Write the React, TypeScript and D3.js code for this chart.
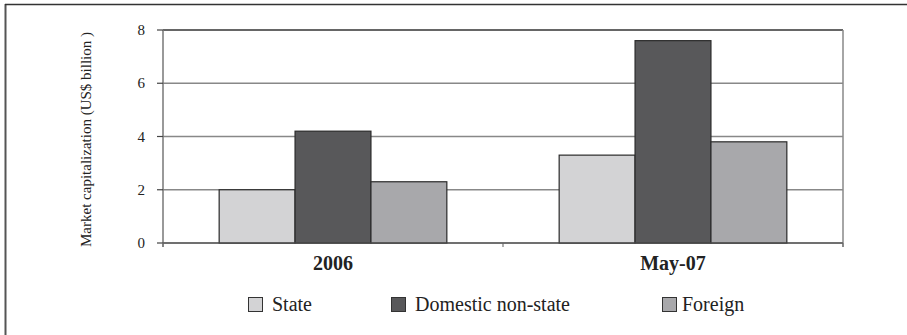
import React from "react";
import * as d3 from "d3";

const categories = ["2006", "May-07"];
const seriesNames = ["State", "Domestic non-state", "Foreign"];
const stateValues = [2.0, 3.3];
const domesticValues = [4.2, 7.6];
const foreignValues = [2.3, 3.8];
const yTicks = [0, 2, 4, 6, 8];

const seriesColors = ["#d3d3d5", "#58585a", "#a8a8ab"];
const FONT = "'Liberation Serif', 'Times New Roman', serif";

const W = 907;
const H = 335;
const plot = { left: 163, right: 843, top: 30, bottom: 243 };

export default function App() {
  const series = [stateValues, domesticValues, foreignValues];
  const x = d3.scaleBand<string>().domain(categories).range([plot.left, plot.right]);
  const xInner = d3
    .scaleBand<number>()
    .domain(d3.range(seriesNames.length))
    .range([0, x.bandwidth()])
    .paddingInner(0)
    .paddingOuter(0.74);
  const y = d3.scaleLinear().domain([0, 8]).range([plot.bottom, plot.top]);

  const legendX = [248, 391, 662];
  const legendY = 297;

  return (
    <svg
      width={W}
      height={H}
      style={{ position: "absolute", left: 0, top: 0, display: "block", background: "#fff" }}
      fontFamily={FONT}
    >
      {/* outer frame */}
      <line x1={5.5} x2={5.5} y1={4} y2={H} stroke="#555" strokeWidth={2} />
      <line x1={5} x2={W} y1={4.5} y2={4.5} stroke="#333" strokeWidth={1.5} />

      {/* gridlines */}
      {yTicks.map((t) => (
        <line
          key={"g" + t}
          x1={plot.left}
          x2={plot.right}
          y1={y(t)}
          y2={y(t)}
          stroke={t === 8 ? "#333" : t === 0 ? "#666" : "#888"}
          strokeWidth={t === 8 ? 1.3 : 1.5}
        />
      ))}
      {/* right border of plot */}
      <line x1={plot.right} x2={plot.right} y1={plot.top} y2={plot.bottom + 4} stroke="#888" strokeWidth={1.5} />

      {/* bars */}
      {categories.map((c, ci) =>
        series.map((vals, si) => {
          const bx = (x(c) ?? 0) + (xInner(si) ?? 0);
          const by = y(vals[ci]);
          return (
            <rect
              key={c + si}
              x={bx}
              y={by}
              width={xInner.bandwidth()}
              height={y(0) - by}
              fill={seriesColors[si]}
              stroke="#2a2a2a"
              strokeWidth={1.2}
            />
          );
        })
      )}

      {/* y axis */}
      <line x1={plot.left} x2={plot.left} y1={plot.top} y2={plot.bottom + 4} stroke="#777" strokeWidth={1.5} />
      {yTicks.map((t) => (
        <g key={"t" + t}>
          <line x1={plot.left - 6} x2={plot.left} y1={y(t)} y2={y(t)} stroke="#444" strokeWidth={1.2} />
          <text x={145} y={y(t) + 5} textAnchor="end" fontSize={15} fill="#222">
            {t}
          </text>
        </g>
      ))}
      {/* x axis ticks */}
      {[plot.left, ...categories.map((c) => (x(c) ?? 0) + x.bandwidth())].map((tx, i) => (
        <line key={"xt" + i} x1={tx} x2={tx} y1={plot.bottom} y2={plot.bottom + 4} stroke="#777" strokeWidth={1.2} />
      ))}
      <line x1={plot.left} x2={plot.right} y1={plot.bottom} y2={plot.bottom} stroke="#555" strokeWidth={1.2} />

      {/* category labels */}
      {categories.map((c) => (
        <text
          key={"c" + c}
          x={(x(c) ?? 0) + x.bandwidth() / 2}
          y={270}
          textAnchor="middle"
          fontSize={20}
          fontWeight="bold"
          fill="#222"
        >
          {c}
        </text>
      ))}

      {/* y axis title */}
      <text
        transform={`translate(91, ${(plot.top + plot.bottom) / 2 + 3}) rotate(-90)`}
        textAnchor="middle"
        fontSize={15}
        fill="#222"
      >
        Market capitalization (US$ billion )
      </text>

      {/* legend */}
      {seriesNames.map((name, i) => (
        <g key={"l" + name}>
          <rect
            x={legendX[i] + 0.5}
            y={legendY + 0.5}
            width={14}
            height={14}
            fill={seriesColors[i]}
            stroke="#333"
            strokeWidth={1}
          />
          <text x={legendX[i] + (i === 2 ? 20 : 24)} y={legendY + 14} fontSize={20} fill="#222">
            {name}
          </text>
        </g>
      ))}
    </svg>
  );
}
